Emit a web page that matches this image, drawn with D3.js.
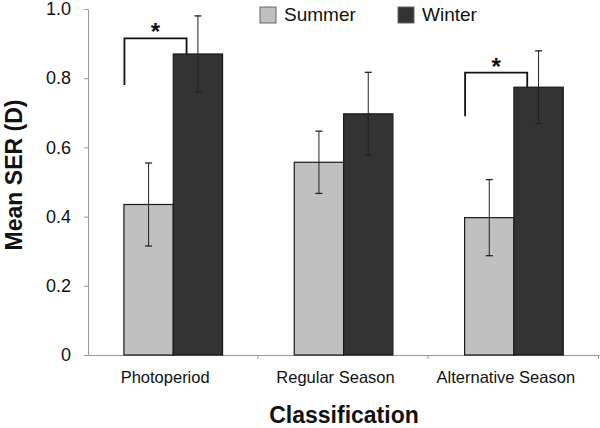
<!DOCTYPE html>
<html>
<head>
<meta charset="utf-8">
<script src="https://cdn.jsdelivr.net/npm/d3@7"></script>
<style>
  html, body { margin: 0; padding: 0; background: #fff; }
  svg { display: block; font-family: "Liberation Sans", Arial, sans-serif; }
</style>
</head>
<body>
<svg id="chart" width="600" height="428"></svg>
<script>
const categories = ["Photoperiod", "Regular Season", "Alternative Season"];
const seriesNames = ["Summer", "Winter"];
const summerValues = [0.435, 0.557, 0.397];
const winterValues = [0.870, 0.697, 0.774];
const summerErrors = [0.120, 0.090, 0.110];
const winterErrors = [0.110, 0.120, 0.105];
const yTicks = [0, 0.2, 0.4, 0.6, 0.8, 1.0];
const tickLabels = ["0", "0.2", "0.4", "0.6", "0.8", "1.0"];
// significance brackets: category index, left leg bottom value, bracket top value
const sigCategories = [0, 2];
const sigLegBottom = [0.78, 0.69];
const sigTop = [0.915, 0.816];

const colors = { Summer: "#c0c0c0", Winter: "#333333" };

const svg = d3.select("#chart");
const margin = { left: 88, right: 1, top: 9, bottom: 73 };
const W = 600, H = 428;

const x0 = d3.scaleBand().domain(categories).range([margin.left, W - margin.right]).padding(0);
const x1 = d3.scaleBand().domain(seriesNames)
  .range([x0.bandwidth() * 0.211, x0.bandwidth() * 0.79]).padding(0);
const y = d3.scaleLinear().domain([0, 1]).range([H - margin.bottom, margin.top]);

const data = categories.map((c, i) => ({
  cat: c,
  vals: [
    { s: "Summer", v: summerValues[i], e: summerErrors[i] },
    { s: "Winter", v: winterValues[i], e: winterErrors[i] }
  ]
}));

// Y axis
const yAxis = d3.axisLeft(y).tickValues(yTicks).tickFormat((d, i) => tickLabels[i]).tickSize(4).tickPadding(13);
const gy = svg.append("g").attr("transform", `translate(${margin.left},0)`).call(yAxis);
gy.select(".domain").attr("stroke", "#999").attr("stroke-width", 1);
gy.selectAll(".tick line").attr("stroke", "#999");
gy.selectAll(".tick text").attr("font-size", 18).attr("fill", "#111")
  .attr("font-family", "Liberation Sans, Arial, sans-serif");

// X axis
const xAxis = d3.axisBottom(x0).tickValues([]).tickSizeOuter(0);
const gx = svg.append("g").attr("transform", `translate(0,${y(0)})`).call(xAxis);
gx.select(".domain").attr("stroke", "#999");
const bounds = categories.map(c => x0(c) + x0.bandwidth());
gx.selectAll(".sep").data(bounds).enter().append("line")
  .attr("x1", d => d - 0.5).attr("x2", d => d - 0.5).attr("y1", 0).attr("y2", 4)
  .attr("stroke", "#999");

// Bars
const groups = svg.selectAll(".grp").data(data).enter().append("g")
  .attr("transform", d => `translate(${x0(d.cat)},0)`);
groups.selectAll("rect").data(d => d.vals).enter().append("rect")
  .attr("x", d => x1(d.s)).attr("width", x1.bandwidth())
  .attr("y", d => y(d.v)).attr("height", d => y(0) - y(d.v))
  .attr("fill", d => colors[d.s]).attr("stroke", "#1a1a1a").attr("stroke-width", 1.2);

// Error bars
const eb = groups.selectAll(".eb").data(d => d.vals).enter().append("g");
eb.append("line")
  .attr("x1", d => x1(d.s) + x1.bandwidth() / 2).attr("x2", d => x1(d.s) + x1.bandwidth() / 2)
  .attr("y1", d => y(d.v + d.e)).attr("y2", d => y(d.v - d.e))
  .attr("stroke", "#222").attr("stroke-width", 1);
[1, -1].forEach(sign => {
  eb.append("line")
    .attr("x1", d => x1(d.s) + x1.bandwidth() / 2 - 3.5).attr("x2", d => x1(d.s) + x1.bandwidth() / 2 + 3.5)
    .attr("y1", d => y(d.v + sign * d.e)).attr("y2", d => y(d.v + sign * d.e))
    .attr("stroke", "#222").attr("stroke-width", 1.3);
});

// Significance brackets
sigCategories.forEach((ci, k) => {
  const c = categories[ci];
  const xl = x0(c) + x1("Summer") + 0.5;
  const xr = x0(c) + x1("Winter") + x1.bandwidth() * 0.27;
  const yTop = y(sigTop[k]);
  svg.append("path")
    .attr("d", `M${xl},${y(sigLegBottom[k])} V${yTop} H${xr} V${y(winterValues[ci])}`)
    .attr("fill", "none").attr("stroke", "#111").attr("stroke-width", 1.8);
  svg.append("text").attr("x", (xl + xr) / 2).attr("y", yTop + 2)
    .attr("text-anchor", "middle").attr("font-size", 24).attr("font-weight", "bold")
    .attr("fill", "#111").text("*");
});

// Category labels
svg.selectAll(".clab").data(categories).enter().append("text")
  .attr("x", d => x0(d) + x0.bandwidth() / 2 - 8).attr("y", 383)
  .attr("text-anchor", "middle").attr("font-size", 16.5).attr("fill", "#111").text(d => d);

// Axis titles
svg.append("text").attr("x", 344).attr("y", 423).attr("text-anchor", "middle")
  .attr("font-size", 23).attr("font-weight", "bold").attr("fill", "#111").text("Classification");
svg.append("text").attr("transform", "translate(22,175) rotate(-90)").attr("text-anchor", "middle")
  .attr("font-size", 23).attr("font-weight", "bold").attr("fill", "#111").text("Mean SER (D)");

// Legend
const legendX = [260, 398];
seriesNames.forEach((s, i) => {
  svg.append("rect").attr("x", legendX[i]).attr("y", 7).attr("width", 16).attr("height", 16)
    .attr("fill", colors[s]).attr("stroke", "#666").attr("stroke-width", 1);
  svg.append("text").attr("x", legendX[i] + 24).attr("y", 20.5)
    .attr("font-size", 19).attr("fill", "#111").text(s);
});
</script>
</body>
</html>
